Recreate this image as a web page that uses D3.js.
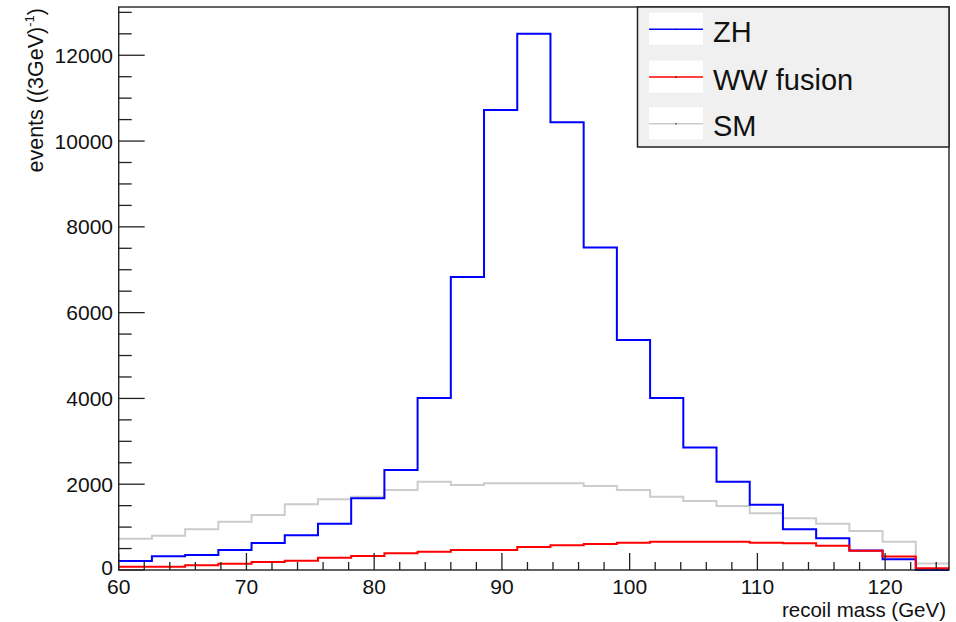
<!DOCTYPE html>
<html><head><meta charset="utf-8">
<script src="https://cdn.jsdelivr.net/npm/d3@7"></script>
<style>body{margin:0;background:#fff;}svg{display:block;font-family:"Liberation Sans",Arial,Helvetica,sans-serif;}</style>
</head><body>
<svg id="c" width="956" height="622"></svg>
<script>
// Binning: 25 bins from 60 to 125 GeV
const binLow = 60, binHigh = 125, nBins = 25;
const seriesNames = ["ZH", "WW fusion", "SM"];
const zh = [210, 320, 350, 466, 630, 810, 1080, 1670, 2330, 4010, 6830, 10726, 12500, 10440, 7516, 5360, 4010, 2853, 2060, 1523, 950, 740, 455, 250, 0];
const ww = [78, 78, 110, 147, 187, 218, 288, 326, 389, 428, 466, 466, 536, 575, 606, 637, 660, 660, 660, 637, 622, 567, 450, 315, 39];
const sm = [730, 800, 948, 1127, 1283, 1530, 1648, 1710, 1866, 2060, 1982, 2021, 2021, 2021, 1959, 1866, 1710, 1609, 1492, 1321, 1205, 1080, 910, 660, 150];
const yTicks = [0, 2000, 4000, 6000, 8000, 10000, 12000];
const xTicks = [60, 70, 80, 90, 100, 110, 120];
const yMax = 13125;

const svg = d3.select("#c");
const L = 118.7, R = 949, T = 7, B = 570;
const x = d3.scaleLinear().domain([binLow, binHigh]).range([L, R]);
const y = d3.scaleLinear().domain([0, yMax]).range([B, T]);
const bw = (binHigh - binLow) / nBins;
const edges = d3.range(nBins + 1).map(i => binLow + i * bw);

// histograms
const colors = ["#0000ff", "#ff0000", "#cccccc"];
const drawOrder = [2, 0, 1];
const data = [zh, ww, sm];
drawOrder.forEach(k => {
  const vals = data[k];
  const pts = vals.map((v, i) => [edges[i], v]);
  pts.push([edges[nBins], vals[nBins - 1]]);
  const line = d3.line().x(d => x(d[0])).y(d => y(d[1])).curve(d3.curveStepAfter);
  svg.append("path").attr("d", line(pts)).attr("fill", "none")
    .attr("stroke", colors[k]).attr("stroke-width", 2);
});

// frame
svg.append("rect").attr("x", L).attr("y", T).attr("width", R - L).attr("height", B - T)
  .attr("fill", "none").attr("stroke", "#222").attr("stroke-width", 1.4);

// y ticks
const yMinor = d3.range(0, 13001, 500);
yMinor.forEach(v => {
  const major = v % 2000 === 0;
  svg.append("line").attr("x1", L).attr("x2", L + (major ? 26 : 13))
    .attr("y1", y(v)).attr("y2", y(v)).attr("stroke", "#222").attr("stroke-width", 1.3);
});
yTicks.forEach(v => {
  svg.append("text").attr("x", 113).attr("y", y(v) - (v === 0 ? 3 : 0)).attr("dy", "0.36em")
    .attr("text-anchor", "end").attr("font-size", 21).attr("fill", "#111").text(v);
});
// x ticks
d3.range(60, 125.01, 2).forEach(v => {
  const major = v % 10 === 0;
  svg.append("line").attr("x1", x(v)).attr("x2", x(v)).attr("y1", B).attr("y2", B - (major ? 17 : 8))
    .attr("stroke", "#222").attr("stroke-width", 1.3);
});
xTicks.forEach(v => {
  svg.append("text").attr("x", x(v)).attr("y", 594).attr("text-anchor", "middle")
    .attr("font-size", 21).attr("fill", "#111").text(v);
});

// axis titles
svg.append("text").attr("x", 946).attr("y", 617).attr("text-anchor", "end")
  .attr("font-size", 20.5).attr("fill", "#111").text("recoil mass (GeV)");
const yt = svg.append("text").attr("transform", "translate(43,8) rotate(-90)")
  .attr("text-anchor", "end").attr("font-size", 21.5).attr("fill", "#111");
yt.append("tspan").text("events ((3GeV)");
yt.append("tspan").attr("font-size", 13).attr("dy", -9).text("-1");
yt.append("tspan").attr("dy", 9).text(")");

// legend
const lg = svg.append("g");
lg.append("rect").attr("x", 637.5).attr("y", 7).attr("width", 311.5).attr("height", 140)
  .attr("fill", "#f0f0f0").attr("stroke", "#222").attr("stroke-width", 1.5);
const rowY = [29.3, 77, 123.7];
seriesNames.forEach((n, i) => {
  lg.append("rect").attr("x", 649).attr("y", rowY[i] - 16.5).attr("width", 54).attr("height", 32).attr("fill", "#fff");
  lg.append("line").attr("x1", 649).attr("x2", 703).attr("y1", rowY[i]).attr("y2", rowY[i])
    .attr("stroke", colors[i]).attr("stroke-width", 1.5);
  lg.append("rect").attr("x", 675.5).attr("y", rowY[i] - 0.5).attr("width", 1.2).attr("height", 1.2).attr("fill", "#000");
  lg.append("text").attr("x", 713).attr("y", rowY[i] + 12.5).attr("font-size", 29).attr("fill", "#111").text(n);
});
</script>
</body></html>
